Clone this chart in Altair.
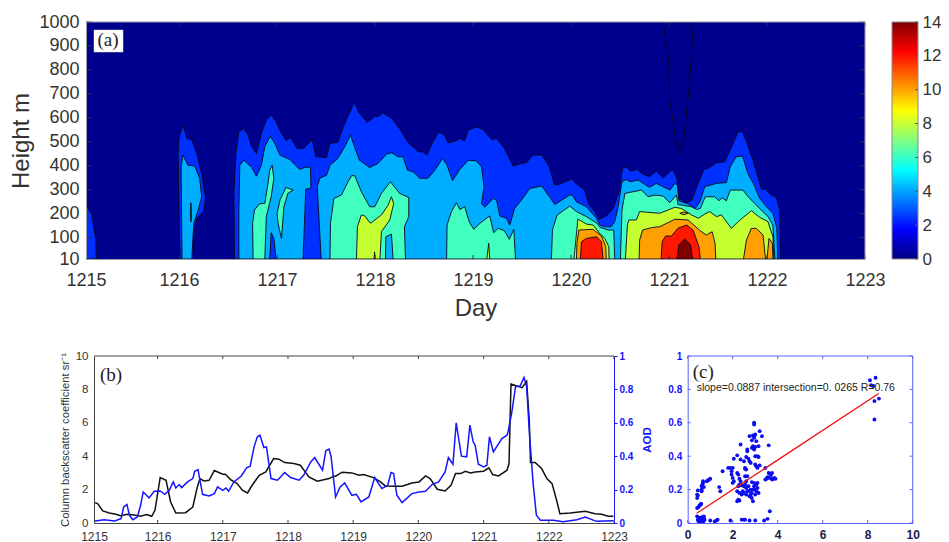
import altair as alt
import pandas as pd

# ---------- panel (a): filled contour regions, (day, height m) ----------
C0, C2, C4, C6, C8, C10, C12, C14 = "#00008f", "#0030ff", "#00aeff", "#40ffbf", "#c4ff30", "#ffa000", "#ff1800", "#800000"
EDGE = "#06061e"

bg = [(1215.05, 10), (1215.05, 1000), (1223, 1000), (1223, 10)]
blob_left = [(1215.05, 10), (1215.05, 240), (1215.11, 194), (1215.15, 89), (1215.155, 10)]
b16_2 = [(1216.01, 10), (1216.0, 215), (1215.99, 451), (1216.0, 520), (1216.04, 569), (1216.08, 513), (1216.13, 509),
         (1216.18, 451), (1216.23, 367), (1216.27, 263), (1216.25, 208), (1216.18, 180), (1216.14, 103), (1216.15, 10)]
b16_4 = [(1216.03, 10), (1216.02, 395), (1216.04, 444), (1216.09, 402), (1216.16, 398), (1216.21, 347), (1216.23, 270),
         (1216.19, 208), (1216.15, 159), (1216.13, 10)]
b16_6 = [(1216.115, 200), (1216.12, 245), (1216.127, 190), (1216.12, 165)]
main_2 = [(1216.565, 10), (1216.56, 284), (1216.58, 451), (1216.61, 541), (1216.66, 555), (1216.705, 527), (1216.74, 479),
          (1216.79, 451), (1216.84, 534), (1216.89, 590), (1216.94, 611), (1216.99, 583), (1217.045, 534), (1217.095, 504),
          (1217.135, 518), (1217.205, 472), (1217.27, 472), (1217.36, 509), (1217.395, 437), (1217.505, 434), (1217.54, 493),
          (1217.62, 497), (1217.69, 576), (1217.79, 666), (1217.83, 625), (1217.92, 580), (1218.0, 607), (1218.03, 604),
          (1218.08, 620), (1218.17, 597), (1218.25, 555), (1218.33, 500), (1218.44, 458), (1218.49, 458), (1218.53, 444),
          (1218.59, 500), (1218.65, 541), (1218.71, 527), (1218.745, 495), (1218.83, 504), (1218.865, 513), (1218.915, 504),
          (1218.95, 548), (1219.035, 562), (1219.1, 551), (1219.19, 509), (1219.24, 513), (1219.32, 472), (1219.41, 398),
          (1219.49, 409), (1219.545, 412), (1219.61, 444), (1219.7, 444), (1219.78, 395), (1219.83, 319), (1219.885, 323),
          (1220.01, 344), (1220.055, 323), (1220.14, 298), (1220.175, 242), (1220.24, 208), (1220.285, 176), (1220.36, 190),
          (1220.43, 222), (1220.49, 291), (1220.525, 388), (1220.565, 395), (1220.605, 377), (1220.675, 384), (1220.73, 365),
          (1220.8, 354), (1220.87, 377), (1220.94, 349), (1221.035, 384), (1221.08, 347), (1221.1, 263), (1221.18, 245),
          (1221.235, 256), (1221.285, 312), (1221.355, 384), (1221.415, 392), (1221.485, 412), (1221.57, 416), (1221.655, 493),
          (1221.705, 541), (1221.75, 541), (1221.79, 500), (1221.86, 416), (1221.945, 301), (1221.99, 301), (1222.03, 281),
          (1222.095, 267), (1222.13, 215), (1222.135, 10)]
left_4 = [(1216.61, 10), (1216.61, 215), (1216.62, 402), (1216.66, 423), (1216.74, 392), (1216.79, 356), (1216.84, 402),
          (1216.875, 479), (1216.93, 523), (1216.977, 493), (1217.03, 444), (1217.13, 426), (1217.23, 384), (1217.28, 392),
          (1217.34, 395), (1217.345, 305), (1217.293, 302), (1217.265, 10)]
hole_1217 = [(1216.925, 10), (1216.94, 120), (1216.967, 96), (1216.99, 10)]
left_6a = [(1216.755, 10), (1216.75, 159), (1216.77, 215), (1216.82, 240), (1216.875, 243), (1216.91, 333), (1216.925, 381),
           (1216.95, 402), (1216.967, 347), (1216.94, 270), (1216.89, 187), (1216.875, 10)]
left_6b = [(1217.09, 309), (1217.165, 298), (1217.11, 284), (1217.07, 228), (1217.045, 96), (1217.01, 159), (1217.0, 201),
           (1217.03, 256)]
main_4 = [(1217.45, 10), (1217.41, 312), (1217.435, 347), (1217.505, 360), (1217.54, 402), (1217.62, 430), (1217.69, 479),
          (1217.75, 527), (1217.79, 479), (1217.84, 423), (1217.945, 392), (1218.03, 409), (1218.116, 448), (1218.17, 454),
          (1218.235, 437), (1218.286, 437), (1218.33, 381), (1218.39, 374), (1218.456, 347), (1218.54, 347), (1218.61, 381),
          (1218.688, 430), (1218.735, 402), (1218.79, 337), (1218.865, 384), (1218.95, 423), (1219.035, 420), (1219.086, 395),
          (1219.113, 312), (1219.086, 242), (1219.12, 226), (1219.205, 263), (1219.24, 256), (1219.273, 190), (1219.34, 180),
          (1219.375, 152), (1219.425, 222), (1219.494, 256), (1219.58, 305), (1219.7, 315), (1219.78, 270), (1219.834, 238),
          (1219.986, 277), (1220.014, 277), (1220.055, 249), (1220.157, 228), (1220.26, 180), (1220.293, 152), (1220.344, 145),
          (1220.41, 145), (1220.446, 166), (1220.48, 228), (1220.52, 333), (1220.56, 342), (1220.605, 333), (1220.685, 340),
          (1220.8, 309), (1220.87, 326), (1221.01, 298), (1221.06, 326), (1221.085, 319), (1221.1, 253), (1221.195, 240),
          (1221.265, 219), (1221.315, 249), (1221.365, 312), (1221.485, 326), (1221.585, 329), (1221.625, 395), (1221.685, 437),
          (1221.75, 440), (1221.805, 367), (1221.86, 326), (1221.925, 263), (1221.995, 228), (1222.06, 201), (1222.1, 138),
          (1222.11, 10)]
d18_6 = [(1217.54, 10), (1217.545, 159), (1217.58, 263), (1217.657, 277), (1217.725, 333), (1217.76, 358), (1217.793, 358),
         (1217.86, 291), (1217.945, 228), (1217.997, 228), (1218.065, 284), (1218.157, 333), (1218.25, 284), (1218.344, 267),
         (1218.344, 187), (1218.3, 145), (1218.31, 10)]
d18_8 = [(1217.81, 10), (1217.82, 145), (1217.86, 194), (1217.895, 190), (1217.953, 159), (1218.065, 194), (1218.133, 235),
         (1218.167, 270), (1218.19, 242), (1218.15, 173), (1218.065, 124), (1218.05, 10)]
d18_hole = [(1218.106, 10), (1218.11, 103), (1218.167, 114), (1218.184, 10)]
d18_speck = [(1217.99, 10), (1217.995, 40), (1218.0, 10)]
d19_6 = [(1218.73, 10), (1218.735, 152), (1218.78, 208), (1218.83, 245), (1218.865, 217), (1218.915, 228), (1218.96, 166),
         (1219.007, 134), (1219.07, 159), (1219.17, 190), (1219.21, 120), (1219.256, 138), (1219.32, 128), (1219.37, 92),
         (1219.416, 134), (1219.433, 10)]
d19_8 = [(1219.14, 10), (1219.16, 76), (1219.17, 10)]
d20_6 = [(1219.8, 10), (1219.81, 131), (1219.857, 193), (1219.987, 231), (1220.055, 208), (1220.157, 187), (1220.266, 159),
         (1220.295, 142), (1220.38, 131), (1220.436, 131), (1220.446, 10)]
d20_8 = [(1220.03, 10), (1220.07, 177), (1220.157, 156), (1220.225, 152), (1220.293, 117), (1220.344, 96), (1220.385, 62),
         (1220.388, 10)]
d20_10 = [(1220.055, 10), (1220.06, 76), (1220.08, 131), (1220.225, 134), (1220.31, 106), (1220.354, 62), (1220.36, 10)]
d20_12 = [(1220.096, 10), (1220.106, 82), (1220.157, 96), (1220.26, 103), (1220.31, 82), (1220.327, 10)]
d21_6 = [(1220.504, 10), (1220.52, 215), (1220.55, 284), (1220.633, 291), (1220.72, 298), (1220.786, 270), (1220.855, 277),
         (1220.94, 273), (1221.007, 245), (1221.076, 277), (1221.09, 238), (1221.23, 228), (1221.28, 217), (1221.32, 221),
         (1221.37, 270), (1221.465, 270), (1221.51, 253), (1221.54, 266), (1221.585, 253), (1221.625, 298), (1221.755, 298),
         (1221.807, 270), (1221.875, 242), (1221.94, 215), (1222.01, 187), (1222.06, 152), (1222.08, 10)]
d21_8 = [(1220.555, 10), (1220.575, 152), (1220.59, 173), (1220.667, 173), (1220.7, 208), (1220.905, 201), (1221.06, 226),
         (1221.127, 221), (1221.23, 194), (1221.3, 180), (1221.365, 198), (1221.415, 208), (1221.485, 187), (1221.535, 194),
         (1221.637, 138), (1221.705, 166), (1221.84, 212), (1221.925, 184), (1222.01, 166), (1222.06, 103), (1222.07, 10)]
d21_10 = [(1220.695, 10), (1220.7, 89), (1220.73, 131), (1220.82, 141), (1220.905, 145), (1221.06, 176), (1221.195, 173),
          (1221.31, 131), (1221.38, 110), (1221.44, 124), (1221.47, 76), (1221.477, 10)]
d21_12 = [(1220.92, 10), (1220.93, 82), (1220.965, 106), (1221.025, 106), (1221.09, 138), (1221.18, 152), (1221.245, 131),
          (1221.305, 62), (1221.32, 10)]
d21_14 = [(1221.08, 10), (1221.1, 68), (1221.16, 94), (1221.22, 68), (1221.24, 10)]
d21_pocket = [(1221.11, 201), (1221.15, 206), (1221.195, 201), (1221.15, 195)]
d22_10a = [(1221.76, 10), (1221.79, 89), (1221.84, 138), (1221.89, 138), (1221.96, 110), (1221.985, 10)]
d22_10b = [(1222.0, 10), (1222.02, 96), (1222.055, 76), (1222.06, 10)]
spike = [(1220.939, 1000), (1220.997, 840), (1221.007, 673), (1221.075, 493), (1221.116, 451), (1221.15, 507),
         (1221.21, 743), (1221.25, 1000)]

regions = [
    (blob_left, C2), (b16_2, C2), (b16_4, C4), (b16_6, C6), (main_2, C2), (left_4, C4), (hole_1217, C2),
    (left_6a, C6), (left_6b, C6), (main_4, C4), (d18_6, C6), (d18_8, C8), (d18_hole, C4), (d18_speck, C10),
    (d19_6, C6), (d19_8, C8), (d20_6, C6), (d20_8, C8), (d20_10, C10), (d20_12, C12),
    (d21_6, C6), (d21_8, C8), (d21_10, C10), (d21_12, C12), (d21_14, C14), (d21_pocket, C10),
    (d22_10a, C10), (d22_10b, C10), (spike, C0),
]

day_ticks = [1216, 1217, 1218, 1219, 1220, 1221, 1222, 1223]
height_ticks = [10, 100, 200, 300, 400, 500, 600, 700, 800, 900, 1000]
cbar_ticks = [0, 2, 4, 6, 8, 10, 12, 14]
jet_stops = [(0, "#000080"), (0.125, "#0000ff"), (0.375, "#00ffff"), (0.625, "#ffff00"), (0.875, "#ff0000"), (1, "#800000")]

# ---------- panel (b) ----------
black_day = [1215.04, 1215.08, 1215.16, 1215.26, 1215.36, 1215.43, 1215.54, 1215.64, 1215.74, 1215.83, 1215.91, 1215.96,
             1216.04, 1216.13, 1216.2, 1216.28, 1216.43, 1216.54, 1216.61, 1216.65, 1216.71, 1216.79, 1216.87, 1217.0,
             1217.04, 1217.12, 1217.22, 1217.3, 1217.38, 1217.45, 1217.56, 1217.66, 1217.78, 1217.86, 1217.95, 1218.09,
             1218.19, 1218.32, 1218.45, 1218.63, 1218.7, 1218.73, 1218.83, 1218.98, 1219.09, 1219.16, 1219.32, 1219.42,
             1219.49, 1219.62, 1219.75, 1219.9, 1220.01, 1220.11, 1220.18, 1220.29, 1220.41, 1220.5, 1220.57, 1220.65,
             1220.72, 1220.8, 1220.87, 1221.0, 1221.08, 1221.14, 1221.23, 1221.36, 1221.39, 1221.42, 1221.59, 1221.66,
             1221.7, 1221.72, 1221.79, 1221.89, 1221.97, 1222.05, 1222.12, 1222.17, 1222.33, 1222.56, 1222.71, 1222.81,
             1222.91, 1222.99]
black_val = [1.22, 1.16, 0.72, 0.6, 0.52, 0.44, 0.52, 0.48, 0.4, 0.5, 0.4, 0.76, 2.72, 2.56, 1.26, 0.6, 0.62, 0.96, 2.16,
             2.66, 2.52, 2.56, 3.14, 2.92, 2.92, 2.6, 2.36, 1.96, 1.8, 2.26, 2.86, 3.06, 3.86, 3.82, 3.62, 3.56, 3.46,
             2.76, 2.5, 2.66, 2.8, 2.8, 3.04, 3.0, 2.86, 2.9, 2.7, 2.46, 2.22, 2.2, 2.2, 2.4, 2.46, 2.82, 2.66, 2.02,
             1.92, 2.26, 2.96, 2.96, 3.1, 3.0, 3.06, 3.1, 3.3, 2.9, 2.82, 3.16, 3.56, 8.32, 8.1, 8.48, 6.16, 3.62, 3.62,
             3.26, 2.66, 2.36, 1.36, 0.56, 0.6, 0.7, 0.56, 0.52, 0.4, 0.4]
blue_day = [1215.04, 1215.18, 1215.34, 1215.44, 1215.48, 1215.53, 1215.57, 1215.62, 1215.69, 1215.74, 1215.78, 1215.87,
            1215.95, 1216.04, 1216.11, 1216.18, 1216.24, 1216.28, 1216.33, 1216.37, 1216.46, 1216.54, 1216.57, 1216.62,
            1216.69, 1216.79, 1216.87, 1216.92, 1217.0, 1217.05, 1217.09, 1217.17, 1217.28, 1217.37, 1217.42, 1217.48,
            1217.53, 1217.57, 1217.63, 1217.67, 1217.74, 1217.84, 1217.95, 1218.04, 1218.17, 1218.24, 1218.35, 1218.41,
            1218.53, 1218.58, 1218.63, 1218.66, 1218.73, 1218.8, 1218.87, 1218.98, 1219.05, 1219.12, 1219.24, 1219.33,
            1219.44, 1219.53, 1219.58, 1219.62, 1219.67, 1219.75, 1219.9, 1220.01, 1220.11, 1220.21, 1220.31, 1220.41,
            1220.46, 1220.53, 1220.58, 1220.66, 1220.74, 1220.79, 1220.84, 1220.87, 1220.92, 1221.0, 1221.05, 1221.09,
            1221.15, 1221.28, 1221.36, 1221.38, 1221.43, 1221.49, 1221.56, 1221.62, 1221.66, 1221.71, 1221.76, 1221.81,
            1221.87, 1222.07, 1222.22, 1222.43, 1222.56, 1222.73, 1222.99]
blue_val = [0.012, 0.02, 0.012, 0.026, 0.096, 0.11, 0.046, 0.02, 0.036, 0.106, 0.186, 0.15, 0.19, 0.192, 0.172, 0.196,
            0.246, 0.21, 0.23, 0.212, 0.246, 0.266, 0.31, 0.32, 0.172, 0.162, 0.176, 0.216, 0.196, 0.21, 0.19, 0.246,
            0.28, 0.332, 0.34, 0.456, 0.516, 0.526, 0.452, 0.456, 0.266, 0.256, 0.302, 0.272, 0.256, 0.286, 0.366, 0.392,
            0.316, 0.432, 0.442, 0.4, 0.156, 0.216, 0.24, 0.166, 0.172, 0.126, 0.156, 0.272, 0.206, 0.226, 0.302, 0.296,
            0.166, 0.122, 0.176, 0.186, 0.19, 0.23, 0.246, 0.306, 0.392, 0.352, 0.6, 0.4, 0.396, 0.586, 0.486, 0.466,
            0.352, 0.336, 0.346, 0.516, 0.426, 0.506, 0.526, 0.556, 0.656, 0.816, 0.82, 0.872, 0.816, 0.496, 0.236, 0.046,
            0.016, 0.016, 0.008, 0.02, 0.036, 0.01, 0.014]
left_ticks = [0, 2, 4, 6, 8, 10]
aod_ticks = [0, 0.2, 0.4, 0.6, 0.8, 1]

# ---------- panel (c) ----------
scatter_x = [0.42, 0.45, 0.48, 0.5, 0.52, 0.55, 0.58, 0.6, 0.62, 0.65, 0.68, 0.7, 0.72, 0.75, 0.72, 1.0, 1.2, 1.28, 1.33, 1.9,
             2.4, 2.5, 2.55, 2.75, 3.0, 3.4, 3.55, 3.65,
             0.42, 0.48, 0.52, 0.58, 0.6, 0.42, 0.42, 0.45, 0.45, 0.62, 0.62, 0.62, 0.65, 0.68, 0.68, 0.72, 0.85, 0.9, 0.95, 1.0,
             1.4, 1.45, 1.55, 1.8, 1.9, 1.95, 1.95, 2.0, 2.0, 2.0, 2.05, 2.05, 2.2, 2.2, 2.25, 2.3,
             2.2, 2.25, 2.3, 2.2, 2.3, 2.4, 2.45, 2.5, 2.55, 2.5, 2.6, 2.6, 2.65, 2.55, 2.7, 2.7, 2.75, 2.8, 2.8, 2.85, 2.9, 2.85,
             2.9, 2.95, 3.0, 3.0, 3.05, 3.05, 3.1, 3.15, 2.85, 2.95, 3.1, 2.6, 2.65, 2.35, 2.4, 2.3, 2.25,
             2.35, 2.35, 2.5, 2.55, 2.6, 2.6, 2.65, 2.65, 2.7, 2.75, 2.8, 2.75, 2.85, 2.9, 2.95, 2.95, 3.0, 2.95, 2.95, 3.2, 3.3,
             2.9, 2.85, 2.95, 3.0, 3.15, 3.05, 3.0, 3.1, 3.15, 3.2, 3.0, 3.05, 3.1, 3.45, 2.55,
             3.6, 3.6, 3.65, 3.7, 3.75, 3.55, 3.5, 3.45, 3.6, 3.7, 3.8, 3.85, 3.9, 3.75,
             8.1, 8.15, 8.25, 8.35, 8.5, 8.3, 8.3]
scatter_y = [0.04, 0.02, 0.01, 0.03, 0.015, 0.03, 0.01, 0.02, 0.035, 0.015, 0.025, 0.01, 0.03, 0.02, 0.04, 0.015, 0.01, 0.015, 0.02, 0.015,
             0.02, 0.02, 0.02, 0.015, 0.015, 0.015, 0.025, 0.07,
             0.09, 0.095, 0.105, 0.11, 0.115, 0.15, 0.17, 0.165, 0.195, 0.19, 0.2, 0.22, 0.23, 0.24, 0.25, 0.215, 0.25, 0.255, 0.26, 0.265,
             0.215, 0.19, 0.31, 0.33, 0.33, 0.31, 0.29, 0.33, 0.27, 0.24, 0.25, 0.385, 0.405, 0.3, 0.29, 0.265,
             0.13, 0.14, 0.135, 0.19, 0.18, 0.17, 0.19, 0.18, 0.23, 0.22, 0.21, 0.25, 0.28, 0.28, 0.19, 0.22, 0.16, 0.17, 0.2, 0.15, 0.13, 0.18,
             0.2, 0.22, 0.17, 0.2, 0.23, 0.19, 0.21, 0.18, 0.245, 0.24, 0.24, 0.17, 0.19, 0.25, 0.225, 0.23, 0.22,
             0.47, 0.38, 0.37, 0.325, 0.32, 0.395, 0.44, 0.43, 0.385, 0.37, 0.36, 0.52, 0.495, 0.525, 0.52, 0.51, 0.53, 0.6, 0.59, 0.55, 0.52,
             0.46, 0.45, 0.44, 0.455, 0.46, 0.49, 0.4, 0.4, 0.395, 0.345, 0.35, 0.34, 0.33, 0.33, 0.33,
             0.465, 0.3, 0.295, 0.29, 0.3, 0.275, 0.265, 0.26, 0.27, 0.27, 0.265, 0.27, 0.265, 0.26,
             0.855, 0.825, 0.82, 0.87, 0.745, 0.73, 0.62]
fit_x = [0.4, 8.49]
fit_y = [0.058, 0.775]
cx_ticks = [0, 2, 4, 6, 8, 10]
cy_ticks = [0, 0.2, 0.4, 0.6, 0.8, 1]

FONT = "Liberation Sans"
SERIF = "Liberation Serif"
GREY = "#333333"
BLUE = "#1414ff"
PLAIN_NUMBER = "'' + datum.value"

# ---------- sizes of the panels ----------
AW, AH = 779, 237
BW, BH = 528, 167
B_LEFT = 8
CW, CH = 225, 167
CBW = 26


def inner_x(values, xenc, h, color, length=4):
    d = pd.DataFrame({"v": values})
    top = alt.Chart(d).mark_rule(color=color, strokeWidth=1).encode(x=xenc("v"), y=alt.value(0), y2=alt.value(length))
    bot = alt.Chart(d).mark_rule(color=color, strokeWidth=1).encode(x=xenc("v"), y=alt.value(h), y2=alt.value(h - length))
    return [top, bot]


def inner_y(values, yenc, x0, x1, color, length=4):
    d = pd.DataFrame({"v": values})
    lft = alt.Chart(d).mark_rule(color=color, strokeWidth=1).encode(y=yenc("v"), x=alt.value(x0), x2=alt.value(x0 + length))
    rgt = alt.Chart(d).mark_rule(color=color, strokeWidth=1).encode(y=yenc("v"), x=alt.value(x1), x2=alt.value(x1 - length))
    return [lft, rgt]


# ---------- (a) ----------
ax_scale = alt.Scale(domain=[1215.05, 1223], nice=False, zero=False)
ay_scale = alt.Scale(domain=[10, 1000], nice=False, zero=False)
ax_axis = alt.Axis(values=[1215.05] + day_ticks, labelExpr="'' + floor(datum.value)", title="Day", tickSize=0, labelFont=FONT,
                   labelFontSize=18, labelColor=GREY, labelPadding=12, labelOverlap=False, labelFlush=False, grid=False,
                   titleFont=FONT, titleFontSize=24, titleFontWeight="normal", titleColor=GREY, titlePadding=7,
                   domainColor="#9a9aa8", zindex=1)
ay_axis = alt.Axis(values=height_ticks, title="Height m", tickSize=0, labelFont=FONT, labelFontSize=18, labelColor=GREY,
                   labelPadding=7, labelOverlap=False, labelFlush=False, grid=False, format="d",
                   titleFont=FONT, titleFontSize=24, titleFontWeight="normal", titleColor=GREY, titlePadding=5,
                   domainColor="#9a9aa8", zindex=1)


def ax_enc(f):
    return alt.X(f"{f}:Q", scale=ax_scale, axis=ax_axis)


def ay_enc(f):
    return alt.Y(f"{f}:Q", scale=ay_scale, axis=ay_axis)


def poly(points, color, edge=True):
    d = pd.DataFrame(points, columns=["d", "h"])
    d["i"] = range(len(d))
    style = {"stroke": EDGE, "strokeWidth": 0.9} if edge else {"strokeWidth": 0}
    return alt.Chart(d).mark_line(interpolate="linear-closed", fill=color, clip=True, **style).encode(
        x=ax_enc("d"), y=ay_enc("h"), order=alt.Order("i:Q"))


a_layers = [poly(bg, C0, edge=False)] + [poly(p, c) for p, c in regions]
a_layers += inner_x(day_ticks, ax_enc, AH, "#2a2a55")
a_layers += inner_y(height_ticks, ay_enc, 0, AW, "#2a2a55", 6)
one = pd.DataFrame({"v": [0]})
a_layers += [
    alt.Chart(one).mark_rule(color="#9a9aa8").encode(x=alt.value(AW), y=alt.value(0), y2=alt.value(AH)),
    alt.Chart(one).mark_rule(color="#9a9aa8").encode(x=alt.value(0), x2=alt.value(AW), y=alt.value(0)),
    alt.Chart(one).mark_rect(fill="white", stroke="#dddddd", strokeWidth=0.5).encode(
        x=alt.value(8), x2=alt.value(37), y=alt.value(8), y2=alt.value(30)),
    alt.Chart(pd.DataFrame({"t": ["(a)"]})).mark_text(font=SERIF, fontSize=19, color="#222222", align="center", baseline="middle").encode(
        x=alt.value(22), y=alt.value(18), text="t:N"),
]
panel_a = alt.layer(*a_layers).properties(width=AW, height=AH)

# ---------- colour bar ----------
grad = alt.Gradient(gradient="linear", x1=0, x2=0, y1=1, y2=0,
                    stops=[alt.GradientStop(offset=o, color=c) for o, c in jet_stops])
cb_scale = alt.Scale(domain=[0, 14], nice=False, zero=False)
cb_axis = alt.Axis(orient="right", values=cbar_ticks, title=None, tickSize=0, domain=False, grid=False,
                   labelFont=FONT, labelFontSize=17, labelColor=GREY, labelPadding=4, labelOverlap=False, labelFlush=False)
cbar_rect = alt.Chart(pd.DataFrame({"lo": [0], "hi": [14]})).mark_rect(fill=grad, stroke="#8a8a8a", strokeWidth=1).encode(
    y=alt.Y("lo:Q", scale=cb_scale, axis=cb_axis), y2="hi:Q", x=alt.value(0), x2=alt.value(CBW))
cbar_ticks_layer = alt.Chart(pd.DataFrame({"v": cbar_ticks})).mark_rule(color="#555555").encode(
    y=alt.Y("v:Q", scale=cb_scale, axis=cb_axis), x=alt.value(CBW), x2=alt.value(CBW - 3))
panel_cb = alt.layer(cbar_rect, cbar_ticks_layer).properties(width=CBW, height=AH)

# ---------- (b) ----------
bx_scale = alt.Scale(domain=[1215.025, 1223], range=[B_LEFT, BW], nice=False, zero=False)
by_scale = alt.Scale(domain=[0, 10], nice=False, zero=False)
by2_scale = alt.Scale(domain=[0, 1], nice=False, zero=False)
bx_axis = alt.Axis(values=[1215.025] + day_ticks, labelExpr="'' + floor(datum.value)", title=None, tickSize=0, grid=False,
                   labelFont=FONT, labelFontSize=12, labelColor=GREY, labelPadding=8, labelOverlap=False, labelFlush=False,
                   domainColor="#444444")


def bx_enc(f):
    return alt.X(f"{f}:Q", scale=bx_scale, axis=bx_axis)


black_line = alt.Chart(pd.DataFrame({"d": black_day, "v": black_val})).mark_line(color="#111111", strokeWidth=1.5, clip=True).encode(
    x=bx_enc("d"),
    y=alt.Y("v:Q", scale=by_scale, axis=alt.Axis(values=left_ticks, offset=-B_LEFT, title="Column backscatter coefficient sr\u207b\u00b9",
                                                 tickSize=0, grid=False, labelFont=FONT, labelFontSize=11.5, labelColor=GREY, labelPadding=6,
                                                 labelOverlap=False, labelFlush=False, titleFont=FONT, titleFontSize=11.3,
                                                 titleFontWeight="normal", titleColor=GREY, titlePadding=5, domainColor="#444444")))
blue_line = alt.Chart(pd.DataFrame({"d": blue_day, "v": blue_val})).mark_line(color=BLUE, strokeWidth=1.5, clip=True).encode(
    x=bx_enc("d"),
    y=alt.Y("v:Q", scale=by2_scale, axis=alt.Axis(orient="right", values=aod_ticks, labelExpr=PLAIN_NUMBER, title="AOD", titleAngle=270,
                                                  tickSize=3, grid=False, labelFont=FONT, labelFontSize=10, labelFontWeight="bold",
                                                  labelColor=BLUE, labelPadding=2, labelOverlap=False, labelFlush=False,
                                                  titleFont=FONT, titleFontSize=11.5, titleFontWeight="bold", titleColor=BLUE,
                                                  titlePadding=20, domainColor=BLUE, tickColor=BLUE)))
b_top = alt.Chart(one).mark_rule(color="#444444").encode(x=alt.value(B_LEFT), x2=alt.value(BW), y=alt.value(0))
b_ticks = inner_x(day_ticks, bx_enc, BH, "#444444", 3)
b_label = alt.Chart(pd.DataFrame({"t": ["(b)"]})).mark_text(font=SERIF, fontSize=19, color="#222222", align="left", baseline="middle").encode(
    x=alt.value(14), y=alt.value(19), text="t:N")
panel_b = alt.layer(black_line, blue_line, b_top, *b_ticks, b_label).resolve_scale(y="independent").properties(width=BW, height=BH)

# ---------- (c) ----------
FRAME = "#5a62ff"
cx_scale = alt.Scale(domain=[0, 10], nice=False, zero=False)
cy_scale = alt.Scale(domain=[0, 1], nice=False, zero=False)
cx_axis = alt.Axis(values=cx_ticks, title=None, tickSize=0, grid=False, labelFont=FONT, labelFontSize=12,
                   labelFontWeight="bold", labelColor="#20204a", labelPadding=6, labelOverlap=False,
                   labelFlush=False, domainColor=FRAME)
cy_axis = alt.Axis(values=cy_ticks, labelExpr=PLAIN_NUMBER, title=None, tickSize=0, grid=False, labelFont=FONT,
                   labelFontSize=10, labelFontWeight="bold", labelColor=BLUE, labelPadding=6,
                   labelOverlap=False, labelFlush=False, domainColor=FRAME)


def cx_enc(f):
    return alt.X(f"{f}:Q", scale=cx_scale, axis=cx_axis)


def cy_enc(f):
    return alt.Y(f"{f}:Q", scale=cy_scale, axis=cy_axis)


points = alt.Chart(pd.DataFrame({"x": scatter_x, "y": scatter_y})).mark_circle(size=15, color="#0c0cf0", opacity=1).encode(
    x=cx_enc("x"), y=cy_enc("y"))
fit = alt.Chart(pd.DataFrame({"x": fit_x, "y": fit_y})).mark_line(color="#ee1111", strokeWidth=1.3).encode(
    x=cx_enc("x"), y=cy_enc("y"))
c_top = alt.Chart(one).mark_rule(color=FRAME).encode(x=alt.value(0), x2=alt.value(CW), y=alt.value(0))
c_right = alt.Chart(one).mark_rule(color=FRAME).encode(x=alt.value(CW), y=alt.value(0), y2=alt.value(CH))
c_x_ticks = inner_x(cx_ticks, cx_enc, CH, FRAME, 3)
c_y_ticks = inner_y(cy_ticks, cy_enc, 0, CW, FRAME, 3)
c_label = alt.Chart(pd.DataFrame({"t": ["(c)"]})).mark_text(font=SERIF, fontSize=19, color="#222222", align="left", baseline="middle").encode(
    x=alt.value(5), y=alt.value(16), text="t:N")
c_note = alt.Chart(pd.DataFrame({"t": ["slope=0.0887 intersection=0. 0265 R=0.76"]})).mark_text(
    font=FONT, fontSize=10.5, color="#222222", align="left", baseline="middle").encode(x=alt.value(9), y=alt.value(32), text="t:N")
panel_c = alt.layer(points, fit, c_top, c_right, *c_x_ticks, *c_y_ticks, c_label, c_note).properties(width=CW, height=CH)

top_row = alt.hconcat(panel_a, panel_cb, spacing=27, bounds="flush")
bottom_row = alt.hconcat(panel_b, panel_c, spacing=73.7, bounds="flush")
chart = alt.vconcat(top_row, bottom_row, spacing=334, bounds="flush").properties(
    padding={"left": 1, "top": 5, "right": 0, "bottom": 0}, background="white"
).configure_view(strokeWidth=0)

chart.save("out.html", embed_options={"renderer": "svg", "actions": False})
